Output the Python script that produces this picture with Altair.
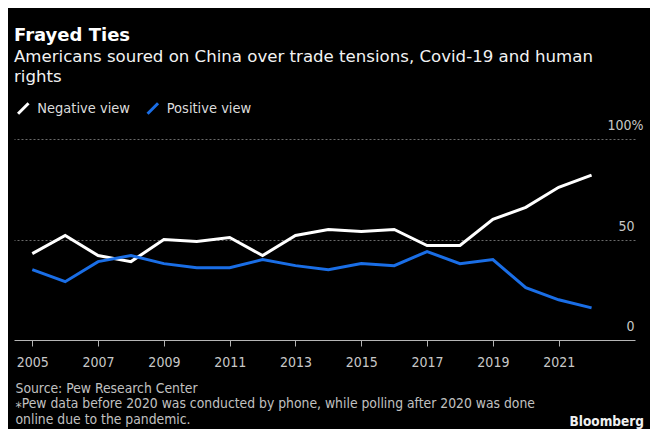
import altair as alt
import pandas as pd

years = list(range(2005, 2023))
negative_view = [43, 52, 42, 39, 50, 49, 51, 42, 52, 55, 54, 55, 47, 47, 60, 66, 76, 82]
positive_view = [35, 29, 39, 42, 38, 36, 36, 40, 37, 35, 38, 37, 44, 38, 40, 26, 20, 16]
series_names = ["Negative view", "Positive view"]
series_colors = ["#ffffff", "#1a6ee6"]
x_ticks = list(range(2005, 2022, 2))
y_ticks = [0, 50, 100]

title_text = "Frayed Ties"
subtitle_lines = ["Americans soured on China over trade tensions, Covid-19 and human", "rights"]
footer_lines = [
    "Source: Pew Research Center",
    "\u204ePew data before 2020 was conducted by phone, while polling after 2020 was done",
    "online due to the pandemic.",
]
brand = "Bloomberg"

FONT = "DejaVu Sans Condensed"
FONT_WIDE = "DejaVu Sans"

rows = []
for name, vals in zip(series_names, [negative_view, positive_view]):
    for y, v in zip(years, vals):
        rows.append({"year": y, "series": name, "value": v})
df = pd.DataFrame(rows)

W, H = 621, 201

lines = alt.Chart(df).mark_line(strokeWidth=3, strokeJoin="miter").encode(
    x=alt.X(
        "year:Q",
        scale=alt.Scale(domain=[2004.444, 2023.32], nice=False, zero=False),
        axis=alt.Axis(
            values=x_ticks,
            format="d",
            grid=False,
            domainColor="#b5b5b5",
            domainWidth=1,
            tickColor="#b5b5b5",
            tickSize=6,
            labelColor="#c8c8c8",
            labelFontSize=14,
            labelFont=FONT,
            labelPadding=9,
            labelFlush=False,
            title=footer_lines,
            titleFont=FONT,
            titleFontSize=13.8,
            titleFontWeight="normal",
            titleColor="#c0c0c0",
            titleAnchor="start",
            titleAlign="left",
            titleBaseline="alphabetic",
            titleX=1,
            titleY=52,
            titleLineHeight=15.5,
        ),
    ),
    y=alt.Y(
        "value:Q",
        scale=alt.Scale(domain=[0, 100], nice=False),
        axis=alt.Axis(
            orient="right",
            values=y_ticks,
            grid=True,
            gridDash=[2, 2],
            gridColor="#6a6a6a",
            gridOpacity={"condition": {"test": "datum.value == 0", "value": 0}, "value": 1},
            domain=False,
            ticks=False,
            labelAlign="right",
            labelBaseline="alphabetic",
            labelOffset=-9.5,
            labelPadding={"condition": {"test": "datum.value == 100", "value": 8}, "value": -1},
            labelExpr="datum.value == 100 ? '100%' : datum.label",
            labelColor="#c8c8c8",
            labelFontSize=14,
            labelFont=FONT,
            title=None,
        ),
    ),
    color=alt.Color(
        "series:N",
        scale=alt.Scale(domain=series_names, range=series_colors),
        legend=alt.Legend(
            title=None,
            orient="none",
            direction="horizontal",
            legendX=7.3 - 5.25,
            legendY=-38,
            symbolType="M-1,1L1,-1",
            symbolSize=110,
            symbolStrokeWidth=3,
            symbolFillColor="transparent",
            labelFont=FONT,
            labelFontSize=14.5,
            labelColor="#dcdcdc",
            labelOffset=6.7,
            columnPadding=11.5,
        ),
    ),
)

brand_df = pd.DataFrame({"t": [brand]})
brand_text = alt.Chart(brand_df).mark_text(
    align="right", baseline="alphabetic", font=FONT, fontSize=13.5, fontWeight="bold", color="#f0f0f0"
).encode(text="t:N", x=alt.value(W + 9), y=alt.value(H + 86))

chart = alt.layer(lines, brand_text).properties(
    width=W,
    height=H,
    autosize=alt.AutoSizeParams(type="none"),
    padding={"left": 6, "top": 131, "right": 15, "bottom": 89},
    background="#000000",
    title=alt.TitleParams(
        text=title_text,
        subtitle=subtitle_lines,
        anchor="start",
        frame="group",
        font=FONT_WIDE,
        fontSize=18,
        fontWeight="bold",
        color="#ffffff",
        subtitleFont=FONT_WIDE,
        subtitleFontSize=16.6,
        subtitleColor="#f2f2f2",
        subtitleLineHeight=20,
        subtitlePadding=4,
        offset=15,
    ),
).configure_view(stroke=None)

chart.save("out.html", embed_options={"renderer": "svg", "actions": False})
